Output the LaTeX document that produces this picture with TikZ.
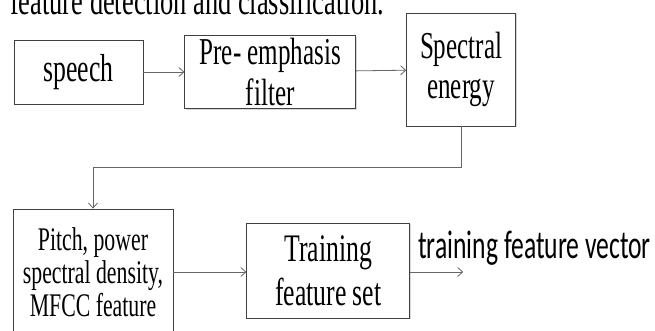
\documentclass[tikz,border=0pt]{standalone}
\usepackage{fontspec}
\setmainfont{Liberation Serif}[FakeStretch=0.66]
\newfontfamily\vecfont{Carlito}[FakeStretch=0.64]
\usetikzlibrary{positioning, shadows, arrows.meta}

\begin{document}
\begin{tikzpicture}[x=1pt, y=1pt, >={Straight Barb[length=5pt,width=9pt]},
		blockbox/.style={draw=black!75, fill=white, line width=0.8pt, inner sep=0pt, align=center,
			drop shadow={shadow xshift=1.2pt, shadow yshift=-1.2pt, opacity=0.3}},
		flowline/.style={->, draw=black!60, line width=0.8pt}]
			\useasboundingbox (0,0) rectangle (655,331);
			\clip (0,0) rectangle (655,331);

			\node[anchor=base west, inner sep=0pt, font=\fontsize{40}{44}\selectfont] (title) at (10,316) {feature detection and classification.};

			\node[blockbox, minimum width=129pt, minimum height=64pt, font=\fontsize{39}{42}\selectfont] (speech) at (78.5,259) {speech};
			\node[blockbox, minimum width=171pt, minimum height=73pt, font=\fontsize{38}{41}\selectfont, right=41pt of speech] (pre) {Pre- emphasis\\filter};
			\node[blockbox, minimum width=109pt, minimum height=113pt, font=\fontsize{38}{40}\selectfont, right=50pt of pre, yshift=2.5pt] (spec) {Spectral\\energy};
			\node[blockbox, minimum width=160pt, minimum height=126pt, font=\fontsize{33}{33}\selectfont] (pitch) at (93,59) {Pitch, power\\spectral density,\\MFCC feature};
			\node[blockbox, minimum width=163pt, minimum height=95pt, font=\fontsize{39}{44}\selectfont, right=73pt of pitch, yshift=1.5pt] (train) {Training\\feature set};
			\coordinate[right=53pt of train.east, yshift=-1.5pt] (out);
			\node[anchor=base west, inner sep=0pt, font=\vecfont\fontsize{40}{44}\selectfont] (vec) at ([shift={(8pt,13pt)}]out -| train.east) {training feature vector};

			\draw[flowline] (speech) -- (pre);
			\draw[flowline] (pre) -- (spec);
			\draw[flowline] (spec.south) -- ++(0,-41) -| (pitch.north);
			\draw[flowline] (pitch) -- (pitch -| train.west);
			\draw[flowline] (out -| train.east) -- (out);
		\end{tikzpicture}
\end{document}
